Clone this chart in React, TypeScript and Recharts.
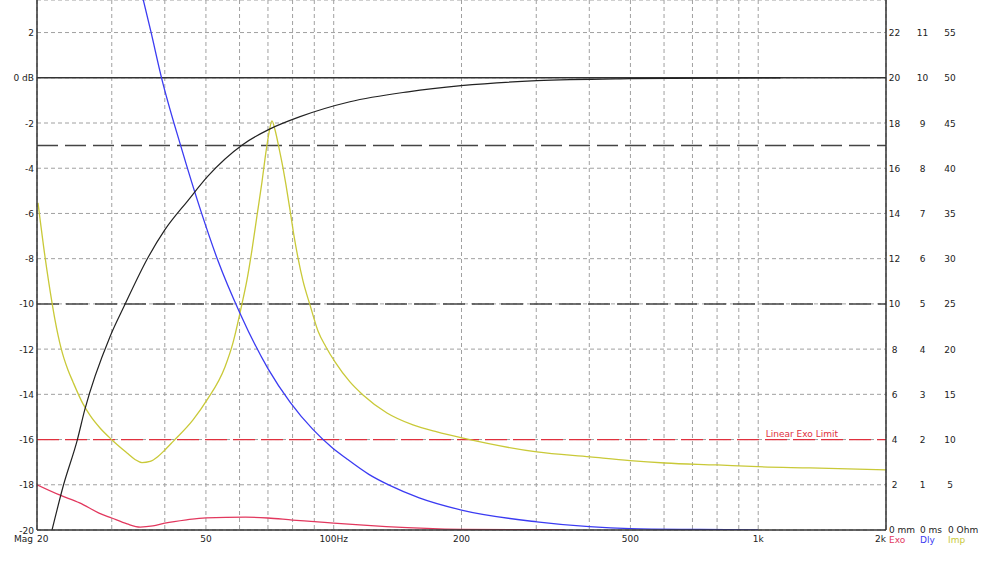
import React from 'react'
import {
  CartesianGrid,
  Line,
  LineChart,
  ReferenceLine,
  XAxis,
  YAxis,
} from 'recharts'

// Frequency response: magnitude (dB), group delay (ms), impedance (Ohm), excursion (mm).
// Values.

const magFreq = [21.7, 23.1, 24.9, 25.9, 29.7, 32.2, 36.5, 40.0, 45.3, 50.6, 61.0, 70.8, 83.0, 109.2, 149.7, 199.5, 301, 499, 993, 1128]
const magDb = [-20, -18, -16, -14.7, -11.46, -10.04, -7.96, -6.73, -5.44, -4.34, -2.96, -2.26, -1.73, -1.06, -0.62, -0.35, -0.13, -0.04, 0, 0]

const dlyFreq = [34.3, 37.1, 39.3, 43.6, 48.7, 53.3, 60.1, 70.0, 78.9, 89.2, 98.9, 107.1, 121, 135.5, 159, 200, 301, 400, 500, 730, 1000]
const dlyMs = [12.35, 11.02, 10.0, 8.5, 7.04, 5.97, 4.8, 3.57, 2.83, 2.23, 1.83, 1.58, 1.23, 0.985, 0.71, 0.44, 0.18, 0.073, 0.03, 0.011, 0]

const impFreq = [20.11, 20.89, 21.7, 22.05, 22.41, 22.78, 23.15, 23.66, 24.31, 25.67, 26.67, 28.15, 30.04, 32.59, 34.03, 35.35, 36.94, 38.55, 40.03, 41.81, 46.62, 50.3, 55.44, 57.9, 60.8, 62.47, 64.19, 65.95, 67.77, 69.25, 70.39, 71.54, 72.72, 74.31, 75.95, 77.19, 78.89, 80.62, 82.39, 84.65, 87.92, 91.82, 95.9, 100.7, 109.2, 117.2, 133.5, 153.7, 175.1, 200.5, 301, 401.6, 498.8, 603, 800, 998.6, 1324, 2000]
const impOhm = [36.17, 30.2, 25.11, 23.23, 21.57, 20.13, 18.97, 17.7, 16.37, 13.94, 12.67, 11.28, 9.96, 8.52, 7.8, 7.45, 7.58, 8.13, 8.85, 9.77, 12.17, 14.38, 18.03, 20.69, 25.0, 27.65, 30.97, 34.73, 38.5, 41.81, 43.92, 45.24, 44.25, 42.26, 40.04, 38.16, 35.4, 32.52, 30.09, 27.54, 24.89, 22.01, 20.24, 18.58, 16.37, 14.93, 12.94, 11.62, 10.84, 10.18, 8.63, 8.08, 7.67, 7.41, 7.19, 7.0, 6.86, 6.64]

const exoFreq = [20, 22.6, 25.2, 28, 30, 32.6, 35, 37.5, 40, 45, 50, 62, 70, 80, 90, 100, 133, 200, 350]
const exoMm = [2.0, 1.55, 1.2, 0.75, 0.53, 0.27, 0.13, 0.18, 0.3, 0.45, 0.54, 0.57, 0.53, 0.44, 0.37, 0.3, 0.15, 0.03, 0]

// axes
const gridFreqs = [20, 30, 40, 50, 60, 70, 80, 90, 100, 200, 300, 400, 500, 600, 700, 800, 900, 1000, 2000]
const freqLabelAt = [20, 50, 100, 200, 500, 1000, 2000]
const freqLabels = ['20', '50', '100Hz', '200', '500', '1k', '2k']
const dbTicks = [-20, -18, -16, -14, -12, -10, -8, -6, -4, -2, 0, 2]
const mmTicks = [0, 2, 4, 6, 8, 10, 12, 14, 16, 18, 20, 22]
const msTicks = [0, 1, 2, 3, 4, 5, 6, 7, 8, 9, 10, 11]
const ohmTicks = [0, 5, 10, 15, 20, 25, 30, 35, 40, 45, 50, 55]
const unitLabels = ['mm', 'ms', 'Ohm']
const seriesNames = ['Exo', 'Dly', 'Imp']

const DB_TOP = 3.44
const DB_BOTTOM = -20

const BLACK = '#222222'
const BLUE = '#3b3bf2'
const YELLOW = '#c9c938'
const RED = '#e2385e'
const LIMIT_RED = '#e0303e'
const GRID = '#a0a0a0'
const FONT = 'DejaVu Sans'

const zip = (f: number[], v: number[]) => f.map((x, i) => ({ f: x, v: v[i] }))

function FreqTick({ x, y, payload }: any) {
  const idx = freqLabelAt.indexOf(payload.value)
  if (idx < 0) return null
  const anchor = idx === 0 ? 'start' : idx === freqLabelAt.length - 1 ? 'end' : 'middle'
  return (
    <g fontFamily={FONT} fontSize={9} fill="#222">
      {idx === 0 && (
        <text x={x - 4} y={y + 9.5} textAnchor="end">
          Mag
        </text>
      )}
      <text x={x} y={y + 9.5} textAnchor={anchor}>
        {freqLabels[idx]}
      </text>
    </g>
  )
}

function DbTick({ x, y, payload }: any) {
  const v = payload.value as number
  return (
    <text x={x} y={y + 3.5} textAnchor="end" fontFamily={FONT} fontSize={9} fill="#222">
      {v === 0 ? '0 dB' : String(v)}
    </text>
  )
}

// three value columns on the right: mm / ms / Ohm
function RightTick({ x, y, payload }: any) {
  const i = mmTicks.indexOf(payload.value)
  if (i < 0) return null
  const centers = [x + 5.5, x + 33.5, x + 61]
  const starts = [x, x + 31, x + 59]
  const vals = [mmTicks[i], msTicks[i], ohmTicks[i]]
  if (i === 0) {
    return (
      <g fontFamily={FONT} fontSize={9}>
        {starts.map((sx, k) => (
          <text key={k} x={sx} y={y + 3} textAnchor="start" fill="#222">
            {`0 ${unitLabels[k]}`}
          </text>
        ))}
        {starts.map((sx, k) => (
          <text key={'n' + k} x={sx} y={y + 12.5} textAnchor="start" fill={[RED, BLUE, YELLOW][k]}>
            {seriesNames[k]}
          </text>
        ))}
      </g>
    )
  }
  return (
    <g fontFamily={FONT} fontSize={9} fill="#222">
      {centers.map((cx, k) => (
        <text key={k} x={cx} y={y + 3.5} textAnchor="middle">
          {vals[k]}
        </text>
      ))}
    </g>
  )
}

function LimitLabel({ viewBox }: any) {
  const { x, y, width } = viewBox
  return (
    <text x={x + width - 48} y={y - 3} textAnchor="end" fontFamily={FONT} fontSize={9} fill={LIMIT_RED}>
      Linear Exo Limit
    </text>
  )
}

export default function App() {
  return (
    <div style={{ position: 'absolute', left: 0, top: 0, width: 1000, height: 561, background: '#fff' }}>
      <LineChart width={1000} height={561} margin={{ top: 0, right: 0, bottom: 0, left: 0 }}>
        <CartesianGrid yAxisId="db" stroke={GRID} strokeDasharray="4 3" />
        <XAxis
          dataKey="f"
          type="number"
          scale="log"
          domain={[20, 2000]}
          ticks={gridFreqs}
          interval={0}
          allowDataOverflow
          height={31}
          tickLine={false}
          tickSize={0}
          tickMargin={2}
          axisLine={{ stroke: '#333', strokeWidth: 1.5 }}
          tick={<FreqTick />}
        />
        <YAxis
          yAxisId="db"
          type="number"
          domain={[DB_BOTTOM, DB_TOP]}
          ticks={dbTicks}
          interval={0}
          allowDataOverflow
          width={37}
          tickLine={false}
          tickSize={0}
          tickMargin={3}
          axisLine={{ stroke: '#333', strokeWidth: 1.5 }}
          tick={<DbTick />}
        />
        <YAxis
          yAxisId="mm"
          orientation="right"
          type="number"
          domain={[0, DB_TOP - DB_BOTTOM]}
          ticks={mmTicks}
          interval={0}
          allowDataOverflow
          width={114}
          tickLine={false}
          tickSize={0}
          tickMargin={3}
          axisLine={{ stroke: '#333', strokeWidth: 1.5 }}
          tick={<RightTick />}
        />
        <YAxis yAxisId="ms" hide type="number" domain={[0, (DB_TOP - DB_BOTTOM) / 2]} allowDataOverflow />
        <YAxis yAxisId="ohm" hide type="number" domain={[0, (DB_TOP - DB_BOTTOM) * 2.5]} allowDataOverflow />

        <ReferenceLine yAxisId="db" y={0} stroke="#333" strokeWidth={1.5} />
        <ReferenceLine yAxisId="db" y={-3} stroke="#444" strokeWidth={1.5} strokeDasharray="21 7" />
        <ReferenceLine yAxisId="db" y={-10} stroke="#444" strokeWidth={1.5} strokeDasharray="22 7" />
        <ReferenceLine
          yAxisId="db"
          y={-16}
          stroke={LIMIT_RED}
          strokeWidth={1.3}
          strokeDasharray="22 6"
          label={<LimitLabel />}
        />

        <Line
          yAxisId="mm"
          data={zip(exoFreq, exoMm)}
          dataKey="v"
          type="monotone"
          stroke={RED}
          strokeWidth={1.3}
          dot={false}
          isAnimationActive={false}
        />
        <Line
          yAxisId="ohm"
          data={zip(impFreq, impOhm)}
          dataKey="v"
          type="monotone"
          stroke={YELLOW}
          strokeWidth={1.3}
          dot={false}
          isAnimationActive={false}
        />
        <Line
          yAxisId="ms"
          data={zip(dlyFreq, dlyMs)}
          dataKey="v"
          type="monotone"
          stroke={BLUE}
          strokeWidth={1.3}
          dot={false}
          isAnimationActive={false}
        />
        <Line
          yAxisId="db"
          data={zip(magFreq, magDb)}
          dataKey="v"
          type="monotone"
          stroke={BLACK}
          strokeWidth={1.2}
          dot={false}
          isAnimationActive={false}
        />
      </LineChart>
    </div>
  )
}
